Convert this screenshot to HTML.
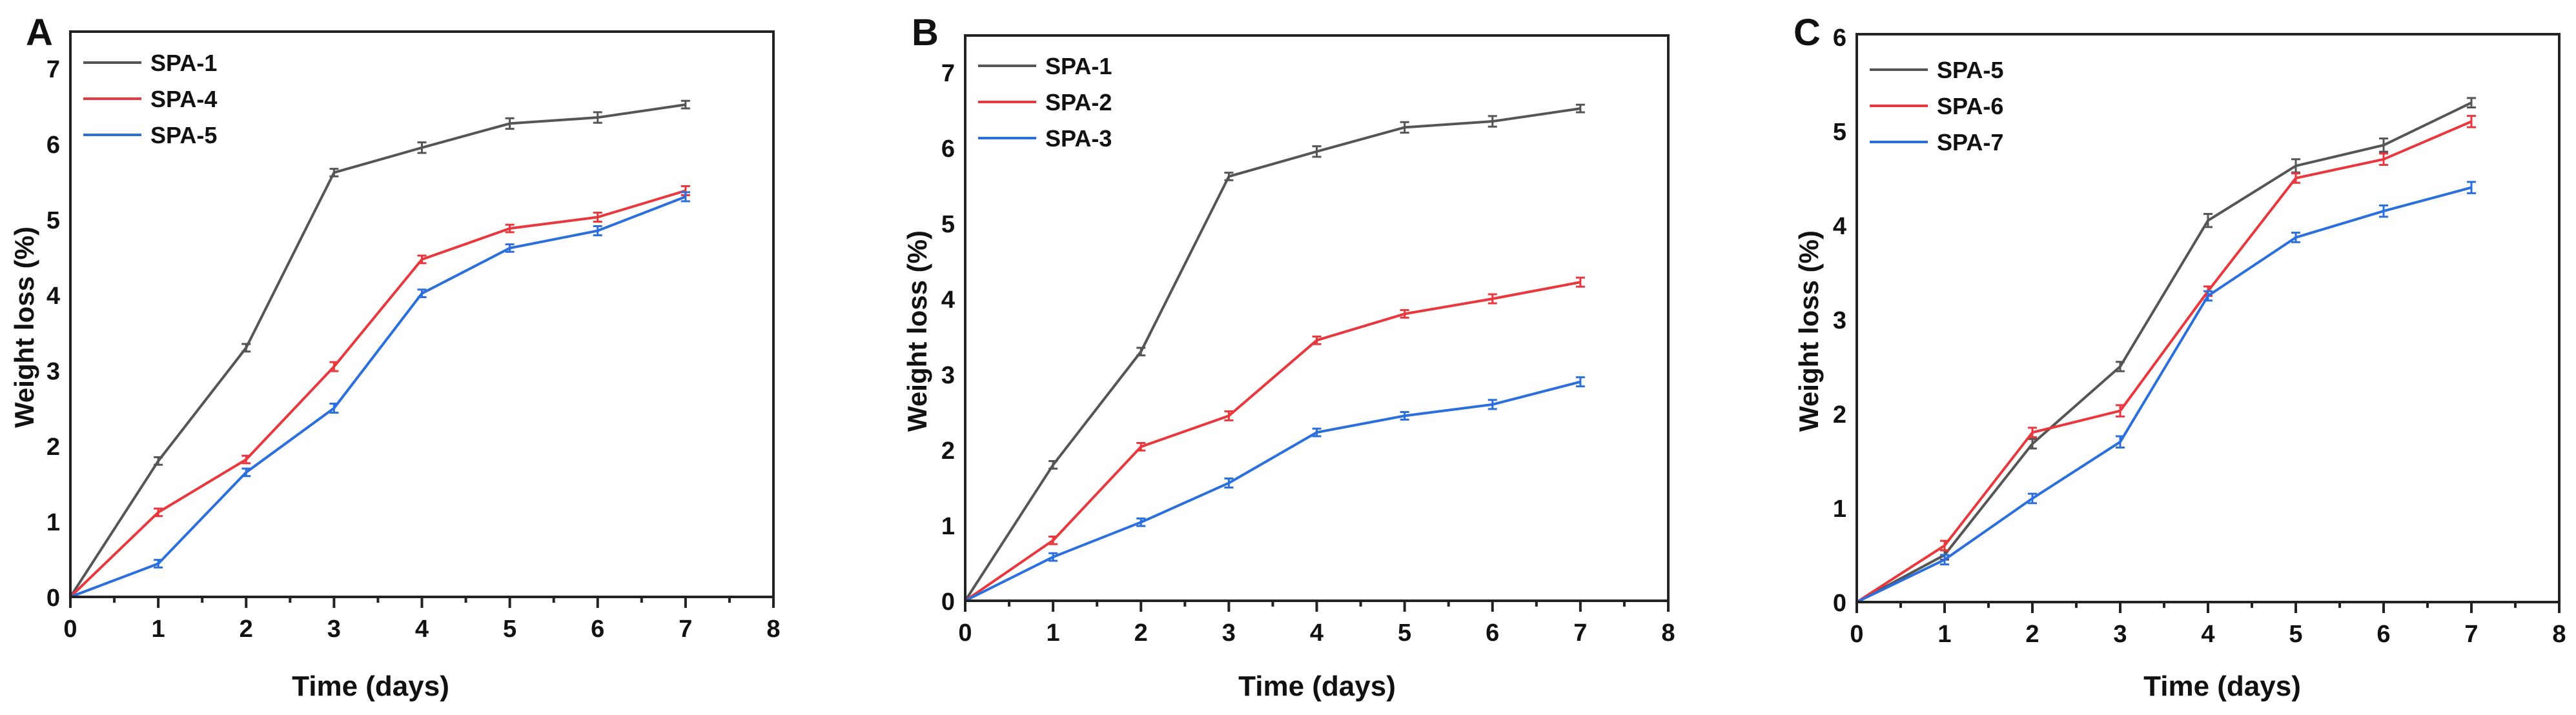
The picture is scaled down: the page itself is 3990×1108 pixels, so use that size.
<!DOCTYPE html>
<html><head><meta charset="utf-8"><style>
html,body{margin:0;padding:0;background:#fff}
svg{display:block}
text{font-family:"Liberation Sans",Arial,sans-serif;font-weight:bold;fill:#111}
</style></head><body>
<svg id="fig" width="3990" height="1108" viewBox="0 0 3990 1108"></svg>
<script>
const days = [0,1,2,3,4,5,6,7];
const xTicks = [0,1,2,3,4,5,6,7,8];
const yTicksAB = [0,1,2,3,4,5,6,7];
const yTicksC = [0,1,2,3,4,5,6];
const namesA = ["SPA-1","SPA-4","SPA-5"];
const namesB = ["SPA-1","SPA-2","SPA-3"];
const namesC = ["SPA-5","SPA-6","SPA-7"];
const a1 = [0,1.8,3.3,5.62,5.95,6.27,6.35,6.52];
const a4 = [0,1.12,1.82,3.05,4.47,4.88,5.03,5.38];
const a5 = [0,0.44,1.65,2.5,4.02,4.62,4.85,5.3];
const b1 = [0,1.8,3.3,5.62,5.95,6.27,6.35,6.52];
const b2 = [0,0.8,2.04,2.45,3.45,3.8,4.0,4.22];
const b3 = [0,0.58,1.04,1.56,2.23,2.45,2.6,2.9];
const c5 = [0,0.5,1.68,2.5,4.05,4.63,4.85,5.3];
const c6 = [0,0.6,1.8,2.03,3.3,4.5,4.7,5.1];
const c7 = [0,0.45,1.1,1.7,3.25,3.87,4.15,4.4];
const errA1 = [0,0.05,0.05,0.05,0.07,0.07,0.07,0.05];
const errSmall = [0,0.05,0.05,0.06,0.05,0.05,0.06,0.06];
const colors = ["#555555","#e8383d","#2a6fdb"];

const NS = "http://www.w3.org/2000/svg";
const svg = document.getElementById('fig');
function mk(tag, attrs, parent){
  const e = document.createElementNS(NS, tag);
  for (const k in attrs) e.setAttribute(k, attrs[k]);
  (parent||svg).appendChild(e);
  return e;
}
function panel(p){
  const g = mk('g', {});
  
  
  const xs = v => p.x0 + (p.x8 - p.x0) * v / 8;
  const ys = v => p.y0 - (p.y0 - p.yTop) * v / p.yMax;
  // series
  p.series.forEach((s, si) => {
    const pts = days.map((d,i) => xs(d) + ',' + ys(s[i])).join(' ');
    const line = mk('polyline', {points: pts, fill:'none', stroke: colors[si], 'stroke-width': 4, 'stroke-linejoin':'round'}, g);
    
    
    days.forEach((d,i) => {
      if (i === 0) return;
      const e = p.errs[si][i];
      const x = xs(d);
      const eb = mk('path', {d: `M${x},${ys(s[i]-e)}V${ys(s[i]+e)}M${x-7},${ys(s[i]-e)}h14M${x-7},${ys(s[i]+e)}h14`, stroke: colors[si], 'stroke-width': 3, fill:'none'}, g);
      
      
    });
  });
  // box
  const box = mk('rect', {x: p.x0, y: p.boxTop, width: p.x8 - p.x0, height: p.y0 - p.boxTop, fill:'none', stroke:'#222', 'stroke-width': 4}, g);
  
  
  // x ticks
  xTicks.forEach(t => {
    const x = xs(t);
    mk('line', {x1:x, x2:x, y1:p.y0, y2:p.y0+17, stroke:'#222','stroke-width':4}, g);
    if (t < 8) mk('line', {x1:xs(t+0.5), x2:xs(t+0.5), y1:p.y0, y2:p.y0+9, stroke:'#222','stroke-width':4}, g);
    const tx = mk('text', {x:x, y:p.y0+62, 'text-anchor':'middle', 'font-size':38}, g);
    tx.textContent = t;
    
    
  });
  p.yTicks.forEach(t => {
    const y = ys(t);
    const ty = mk('text', {x:p.x0-16, y:y+14, 'text-anchor':'end', 'font-size':38}, g);
    ty.textContent = t;
    
    
  });
  // titles
  const xt = mk('text', {x:p.xTitle, y:1078, 'text-anchor':'middle', 'font-size':44}, g);
  xt.textContent = 'Time (days)';
  
  
  const yc = (p.y0 + p.boxTop) / 2;
  const yt = mk('text', {x:0, y:0, 'text-anchor':'middle', 'font-size':42, transform:`translate(${p.yTitleX},${yc+20}) rotate(-90)`}, g);
  yt.textContent = 'Weight loss (%)';
  
  
  const lt = mk('text', {x:p.letterX, y:70, 'font-size':58}, g);
  lt.textContent = p.letter;
  
  
  // legend
  p.names.forEach((n, i) => {
    const y = p.legY + i * 56;
    mk('line', {x1:p.x0+20, x2:p.x0+110, y1:y, y2:y, stroke: colors[i], 'stroke-width': 4}, g);
    const le = mk('text', {x:p.x0+124, y:y+13, 'font-size':36}, g);
    le.textContent = n;
    
    
  });
}
panel({letter:'A', x0:109, x8:1198, y0:925, yTop:106, yMax:7, boxTop:49, yTicks:yTicksAB,
  series:[a1,a4,a5], names:namesA, errs:[errA1,errSmall,errSmall], xTitle:574, yTitleX:52, letterX:40, legY:97});
panel({letter:'B', x0:1495, x8:2584, y0:931, yTop:112, yMax:7, boxTop:55, yTicks:yTicksAB,
  series:[b1,b2,b3], names:namesB, errs:[errA1,errSmall,errSmall], xTitle:2040, yTitleX:1435, letterX:1412, legY:102});
panel({letter:'C', x0:2876, x8:3964, y0:933, yTop:57, yMax:6, boxTop:53, yTicks:yTicksC,
  series:[c5,c6,c7], names:namesC, errs:[errA1,errSmall,errSmall], xTitle:3442, yTitleX:2816, letterX:2778, legY:108});
</script>
</body></html>
